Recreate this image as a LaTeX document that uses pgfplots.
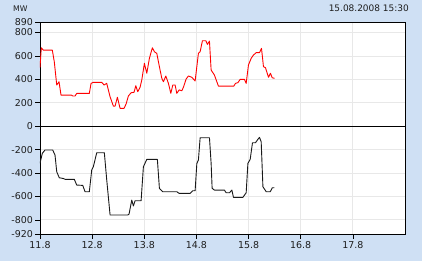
\documentclass[border=0pt]{standalone}
\usepackage{pgfplots}
\pgfplotsset{compat=1.18}
\usepackage{fontspec}
\setmainfont{DejaVu Sans}
\definecolor{bgblue}{RGB}{207,224,244}
\definecolor{gridgray}{RGB}{232,232,232}
\definecolor{txt}{RGB}{30,30,30}
\begin{document}
\begin{tikzpicture}[x=1bp,y=1bp]
\fill[bgblue] (-40,-27) rectangle (382,234);
\node[anchor=west,inner sep=0pt,text=txt,font=\fontsize{7.8}{9}\selectfont] at (-27,225.7) {MW};
\node[anchor=east,inner sep=0pt,text=txt,font=\fontsize{9}{10}\selectfont] at (369,225.7) {15.08.2008 15:30};
\begin{axis}[
  at={(0,0)}, anchor=south west,
  scale only axis, width=365bp, height=212bp,
  xmin=11.8, xmax=18.8, ymin=-920, ymax=890,
  xtick={11.8,12.8,13.8,14.8,15.8,16.8,17.8},
  xticklabels={11.8,12.8,13.8,14.8,15.8,16.8,17.8},
  ytick={-920,-800,-600,-400,-200,0,200,400,600,800,890},
  yticklabels={-920,-800,-600,-400,-200,0,200,400,600,800,890},
  xtick pos=bottom, ytick pos=left,
  tick align=outside, major tick length=4.5bp,
  tick style={black, line width=0.7bp},
  grid=major, grid style={gridgray, line width=0.9bp},
  axis line style={black, line width=0.9bp},
  axis background/.style={fill=white},
  ticklabel style={font=\fontsize{9.5}{11}\selectfont, text=txt},
  yticklabel style={xshift=1bp},
  xticklabel style={yshift=1bp},
  /pgf/number format/assume math mode=true,
]
\addplot[black, line width=0.9bp, forget plot] coordinates {(11.8,0) (18.8,0)};
\addplot[red, line width=0.9bp, line join=round] coordinates {
(11.800,500) (11.825,670) (11.863,650) (12.036,650) (12.074,551) (12.121,352)
(12.165,380) (12.203,266) (12.408,265) (12.428,258) (12.472,258) (12.504,280)
(12.746,280) (12.779,366) (12.823,375) (12.984,375) (13.028,352) (13.080,366)
(13.144,252) (13.207,172) (13.240,172) (13.284,247) (13.336,153) (13.412,153)
(13.451,190) (13.495,258) (13.547,286) (13.604,290) (13.637,346) (13.675,295)
(13.719,332) (13.752,395) (13.802,537) (13.848,452) (13.898,580) (13.955,670)
(13.994,636) (14.040,622) (14.090,508) (14.136,409) (14.167,380) (14.213,429)
(14.263,366) (14.309,281) (14.347,352) (14.391,352) (14.424,281) (14.468,310)
(14.520,303) (14.550,332) (14.602,403) (14.646,429) (14.712,418) (14.775,386)
(14.838,622) (14.871,636) (14.915,730) (14.980,730) (15.011,699) (15.050,727)
(15.082,480) (15.145,437) (15.222,343) (15.518,343) (15.549,366) (15.595,372)
(15.639,400) (15.721,400) (15.754,366) (15.798,523) (15.850,580) (15.894,608)
(15.946,628) (16.009,628) (16.048,665) (16.086,508) (16.124,500) (16.182,418)
(16.220,452) (16.253,414) (16.297,409)
};
\addplot[black!90, line width=0.9bp, line join=round] coordinates {
(11.800,-317) (11.844,-232) (11.896,-203) (12.044,-203) (12.088,-246) (12.121,-389)
(12.170,-440) (12.247,-446) (12.280,-453) (12.458,-453) (12.504,-502) (12.620,-505)
(12.664,-559) (12.746,-559) (12.792,-374) (12.823,-346) (12.888,-226) (13.034,-226)
(13.080,-459) (13.144,-758) (13.483,-758) (13.508,-750) (13.560,-630) (13.591,-681)
(13.623,-636) (13.739,-636) (13.783,-346) (13.848,-283) (14.051,-283) (14.090,-530)
(14.155,-559) (14.424,-559) (14.468,-573) (14.679,-573) (14.731,-551) (14.775,-551)
(14.808,-317) (14.838,-289) (14.871,-98) (15.050,-98) (15.082,-317) (15.101,-530)
(15.145,-545) (15.337,-545) (15.370,-568) (15.433,-568) (15.480,-545) (15.510,-607)
(15.691,-607) (15.754,-568) (15.787,-317) (15.831,-283) (15.875,-141) (15.933,-141)
(15.978,-112) (16.009,-95) (16.042,-132) (16.075,-516) (16.139,-559) (16.216,-559)
(16.255,-525) (16.297,-525)
};
\end{axis}
\end{tikzpicture}
\end{document}
